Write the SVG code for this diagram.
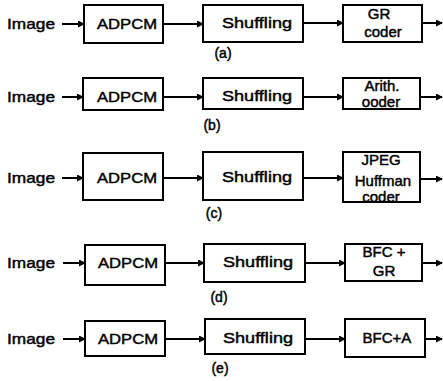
<svg xmlns="http://www.w3.org/2000/svg" width="443" height="381" viewBox="0 0 443 381">
<style>
.box{fill:#fff;stroke:#000;stroke-width:2}
.ln{stroke:#000;stroke-width:2;fill:none}
text{font-family:"Liberation Sans",Arial,sans-serif;font-size:15px;fill:#000;stroke:#000;stroke-width:0.45}
.c{text-anchor:middle}
.lab{font-size:14px;text-anchor:middle}
</style>
<defs>
<marker id="ah" markerWidth="7" markerHeight="7" refX="6" refY="3.5" orient="auto" markerUnits="userSpaceOnUse">
<path d="M0,0 L7,3.5 L0,7 Z" fill="#000"/>
</marker>
</defs>
<rect width="443" height="381" fill="#fff"/>

<!-- row a -->
<g id="a-image"><text x="7" y="29" textLength="48" lengthAdjust="spacingAndGlyphs">Image</text></g>
<g id="a-adpcm"><rect class="box" x="84" y="5" width="79" height="38"/><text x="97" y="29" textLength="60" lengthAdjust="spacingAndGlyphs">ADPCM</text></g>
<g id="a-shuf"><rect class="box" x="203" y="5" width="100" height="37"/><text x="222" y="28" textLength="70" lengthAdjust="spacingAndGlyphs">Shuffling</text></g>
<g id="a-gr"><rect class="box" x="343" y="5" width="79" height="37"/><text class="c" x="379" y="19">GR</text><text class="c" x="383" y="37">coder</text></g>
<g id="a-label"><text class="lab" x="223" y="58">(a)</text></g>

<!-- row b -->
<g id="b-image"><text x="7" y="102" textLength="48" lengthAdjust="spacingAndGlyphs">Image</text></g>
<g id="b-adpcm"><rect class="box" x="83" y="78" width="80" height="32"/><text x="97" y="102" textLength="60" lengthAdjust="spacingAndGlyphs">ADPCM</text></g>
<g id="b-shuf"><rect class="box" x="203" y="78" width="100" height="31"/><text x="222" y="101" textLength="70" lengthAdjust="spacingAndGlyphs">Shuffling</text></g>
<g id="b-arith"><rect class="box" x="343" y="78" width="77" height="31"/><text class="c" x="382" y="91">Arith.</text><text class="c" x="381" y="107">ooder</text></g>
<g id="b-label"><text class="lab" x="212" y="130">(b)</text></g>

<!-- row c -->
<g id="c-image"><text x="7" y="183" textLength="48" lengthAdjust="spacingAndGlyphs">Image</text></g>
<g id="c-adpcm"><rect class="box" x="83" y="153" width="80" height="47"/><text x="97" y="183" textLength="60" lengthAdjust="spacingAndGlyphs">ADPCM</text></g>
<g id="c-shuf"><rect class="box" x="203" y="152" width="100" height="48"/><text x="222" y="182" textLength="70" lengthAdjust="spacingAndGlyphs">Shuffling</text></g>
<g id="c-jpeg"><rect class="box" x="343" y="152" width="77" height="50"/><text class="c" x="381" y="165">JPEG</text><text class="c" x="383" y="186">Huffman</text><text class="c" x="381" y="202">coder</text></g>
<g id="c-label"><text class="lab" x="214" y="218">(c)</text></g>

<!-- row d -->
<g id="d-image"><text x="7" y="268" textLength="48" lengthAdjust="spacingAndGlyphs">Image</text></g>
<g id="d-adpcm"><rect class="box" x="85" y="245" width="80" height="40"/><text x="98" y="268" textLength="60" lengthAdjust="spacingAndGlyphs">ADPCM</text></g>
<g id="d-shuf"><rect class="box" x="204" y="244" width="101" height="38"/><text x="223" y="267" textLength="70" lengthAdjust="spacingAndGlyphs">Shuffling</text></g>
<g id="d-bfcgr"><rect class="box" x="345" y="244" width="77" height="37"/><text class="c" x="384" y="257">BFC +</text><text class="c" x="384" y="276">GR</text></g>
<g id="d-label"><text class="lab" x="219" y="302">(d)</text></g>

<!-- row e -->
<g id="e-image"><text x="7" y="344" textLength="48" lengthAdjust="spacingAndGlyphs">Image</text></g>
<g id="e-adpcm"><rect class="box" x="85" y="321" width="80" height="35"/><text x="98" y="344" textLength="60" lengthAdjust="spacingAndGlyphs">ADPCM</text></g>
<g id="e-shuf"><rect class="box" x="205" y="319" width="100" height="35"/><text x="223" y="343" textLength="70" lengthAdjust="spacingAndGlyphs">Shuffling</text></g>
<g id="e-bfca"><rect class="box" x="345" y="319" width="80" height="38"/><text class="c" x="387" y="343">BFC+A</text></g>
<g id="e-label"><text class="lab" x="220" y="373">(e)</text></g>

<g id="connectors">
<line class="ln" x1="62" y1="24" x2="84" y2="24" marker-end="url(#ah)"/>
<line class="ln" x1="163" y1="24" x2="203" y2="24" marker-end="url(#ah)"/>
<line class="ln" x1="303" y1="23" x2="343" y2="23" marker-end="url(#ah)"/>
<line class="ln" x1="422" y1="23" x2="442" y2="23" marker-end="url(#ah)"/>

<line class="ln" x1="62" y1="97" x2="83" y2="97" marker-end="url(#ah)"/>
<line class="ln" x1="163" y1="97" x2="203" y2="97" marker-end="url(#ah)"/>
<line class="ln" x1="303" y1="97" x2="343" y2="97" marker-end="url(#ah)"/>
<line class="ln" x1="420" y1="97" x2="442" y2="97" marker-end="url(#ah)"/>

<line class="ln" x1="62" y1="178" x2="83" y2="178" marker-end="url(#ah)"/>
<line class="ln" x1="163" y1="178" x2="203" y2="178" marker-end="url(#ah)"/>
<line class="ln" x1="303" y1="178" x2="343" y2="178" marker-end="url(#ah)"/>
<line class="ln" x1="420" y1="179" x2="442" y2="179" marker-end="url(#ah)"/>

<line class="ln" x1="63" y1="263" x2="85" y2="263" marker-end="url(#ah)"/>
<line class="ln" x1="165" y1="263" x2="204" y2="263" marker-end="url(#ah)"/>
<line class="ln" x1="305" y1="263" x2="345" y2="263" marker-end="url(#ah)"/>
<line class="ln" x1="422" y1="263" x2="442" y2="263" marker-end="url(#ah)"/>

<line class="ln" x1="63" y1="339" x2="85" y2="339" marker-end="url(#ah)"/>
<line class="ln" x1="165" y1="339" x2="205" y2="339" marker-end="url(#ah)"/>
<line class="ln" x1="305" y1="339" x2="345" y2="339" marker-end="url(#ah)"/>
<line class="ln" x1="425" y1="339" x2="442" y2="339" marker-end="url(#ah)"/>
</g>
</svg>
